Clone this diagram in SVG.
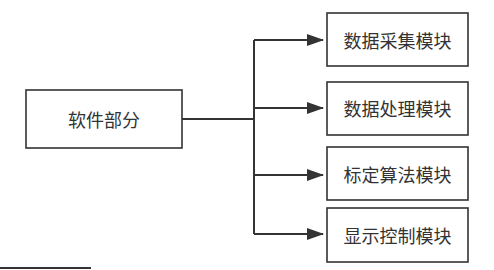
<svg xmlns="http://www.w3.org/2000/svg" width="494" height="270" viewBox="0 0 494 270">
<defs>
<marker id="ah" markerWidth="17" markerHeight="12" refX="16" refY="6" orient="auto" markerUnits="userSpaceOnUse" viewBox="0 0 17 12">
<path d="M0,0 L17,6 L0,12 z" fill="#333"/>
</marker>
<style>
.box{fill:#fff;stroke:#333;stroke-width:1.6}
.t{font-family:"Noto Sans CJK SC",sans-serif;font-size:18px;fill:#333;text-anchor:middle;dominant-baseline:central}
.c{fill:none;stroke:#333;stroke-width:2}
</style>
</defs>
<rect width="494" height="270" fill="#fff"/>
<g id="connectors">
<path class="c" d="M182,119 H254" stroke-width="3"/>
<path class="c" d="M254,40 V234"/>
<path class="c" d="M254,40 H323" marker-end="url(#ah)"/>
<path class="c" d="M254,108 H323" marker-end="url(#ah)"/>
<path class="c" d="M254,175 H323" marker-end="url(#ah)"/>
<path class="c" d="M254,234 H323" marker-end="url(#ah)"/>
</g>
<g id="software"><rect class="box" x="26" y="90" width="156" height="58"/><text class="t" x="104" y="119">软件部分</text></g>
<g id="acq"><rect class="box" x="327" y="13" width="141" height="53"/><text class="t" x="397.5" y="40">数据采集模块</text></g>
<g id="proc"><rect class="box" x="327" y="82" width="141" height="53"/><text class="t" x="397.5" y="108">数据处理模块</text></g>
<g id="calib"><rect class="box" x="327" y="147" width="141" height="53"/><text class="t" x="397.5" y="174">标定算法模块</text></g>
<g id="disp"><rect class="box" x="327" y="208" width="141" height="54"/><text class="t" x="397.5" y="235">显示控制模块</text></g>
<path d="M0,268 H91" stroke="#333" stroke-width="2"/>
</svg>
